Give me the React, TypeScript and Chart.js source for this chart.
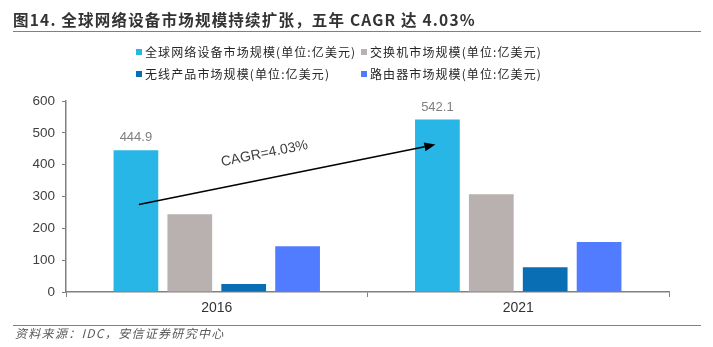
import React, { useEffect, useRef } from "react";
import { Chart, registerables } from "chart.js";

Chart.register(...registerables);

const categories = ["2016", "2021"];
const seriesNames = [
  "全球网络设备市场规模(单位:亿美元)",
  "交换机市场规模(单位:亿美元)",
  "无线产品市场规模(单位:亿美元)",
  "路由器市场规模(单位:亿美元)",
];
const globalMarket = [444.9, 542.1];
const switchMarket = [244, 307];
const wirelessMarket = [25, 78];
const routerMarket = [144, 157];
const seriesColors = ["#27B6E5", "#B9B1AF", "#0A6EB4", "#527CFF"];
const yTicks = [0, 100, 200, 300, 400, 500, 600];
const arrowStartValue = 275;
const arrowEndValue = 463;
const cagrLabel = "CAGR=4.03%";
const titleText = "图14. 全球网络设备市场规模持续扩张，五年 CAGR 达 4.03%";
const sourceText = "资料来源：IDC，安信证券研究中心";

const overlayPlugin = {
  id: "overlay",
  afterDatasetsDraw(chart: any) {
    const ctx = chart.ctx;
    const meta = chart.getDatasetMeta(0);
    const y = chart.scales.y;
    ctx.save();
    ctx.fillStyle = "#7F7F7F";
    ctx.font = "13px 'Liberation Sans', Arial, sans-serif";
    ctx.textAlign = "center";
    ctx.textBaseline = "bottom";
    meta.data.forEach((bar: any, i: number) => {
      ctx.fillText(globalMarket[i].toFixed(1), bar.x, bar.y - 6);
    });
    const x0 = meta.data[0].x + 3;
    const x1 = meta.data[1].x - 2;
    const y0 = y.getPixelForValue(arrowStartValue);
    const y1 = y.getPixelForValue(arrowEndValue);
    const ang = Math.atan2(y1 - y0, x1 - x0);
    const headLen = 11;
    const headW = 4.5;
    const bx = x1 - headLen * Math.cos(ang);
    const by = y1 - headLen * Math.sin(ang);
    ctx.strokeStyle = "#000";
    ctx.lineWidth = 1.6;
    ctx.beginPath();
    ctx.moveTo(x0, y0);
    ctx.lineTo(bx, by);
    ctx.stroke();
    ctx.fillStyle = "#000";
    ctx.beginPath();
    ctx.moveTo(x1, y1);
    ctx.lineTo(bx + headW * Math.sin(ang), by - headW * Math.cos(ang));
    ctx.lineTo(bx - headW * Math.sin(ang), by + headW * Math.cos(ang));
    ctx.closePath();
    ctx.fill();
    const tx = x0 + (x1 - x0) * 0.44;
    const ty = y0 + (y1 - y0) * 0.44;
    ctx.translate(tx + 25 * Math.sin(ang), ty - 25 * Math.cos(ang));
    ctx.rotate(ang);
    ctx.fillStyle = "#404040";
    ctx.font = "14px 'Liberation Sans', Arial, sans-serif";
    ctx.textAlign = "center";
    ctx.textBaseline = "middle";
    ctx.fillText(cagrLabel, 0, 0);
    ctx.restore();
  },
};

export default function App() {
  const ref = useRef<HTMLCanvasElement | null>(null);
  useEffect(() => {
    document.body.style.margin = "0";
    const chart = new Chart(ref.current as HTMLCanvasElement, {
      type: "bar",
      data: {
        labels: categories,
        datasets: [globalMarket, switchMarket, wirelessMarket, routerMarket].map((d, i) => ({
          label: seriesNames[i],
          data: d,
          backgroundColor: seriesColors[i],
          barPercentage: 0.83,
          categoryPercentage: 0.715,
        })),
      },
      options: {
        animation: false,
        responsive: false,
        layout: { padding: { top: 101, left: 0, right: 44, bottom: 27 } },
        plugins: { legend: { display: false }, tooltip: { enabled: false } },
        scales: {
          x: {
            afterFit: (s: any) => { s.height = 28; },
            grid: { display: true, drawOnChartArea: false, offset: true, color: "#808080", tickLength: 5 },
            border: { color: "#808080", width: 1.5 },
            ticks: { color: "#333", font: { family: "'Liberation Sans', Arial, sans-serif", size: 14 }, padding: 3 },
          },
          y: {
            min: 0,
            max: 600,
            afterFit: (s: any) => { s.width = 66; },
            afterBuildTicks: (s: any) => { s.ticks = yTicks.map((v) => ({ value: v })); },
            grid: { display: true, drawOnChartArea: false, color: "#808080", tickLength: 4 },
            border: { color: "#808080", width: 1.5 },
            ticks: { color: "#404040", font: { family: "'Liberation Sans', Arial, sans-serif", size: 13.5 }, padding: 7 },
          },
        },
      },
      plugins: [overlayPlugin],
    });
    return () => chart.destroy();
  }, []);

  const legendItem = (i: number, left: number, top: number) => (
    <div
      key={i}
      style={{
        position: "absolute",
        left,
        top,
        display: "flex",
        alignItems: "center",
        fontFamily: "'Noto Sans CJK SC', sans-serif",
        fontSize: 12,
        letterSpacing: 1.1,
        color: "#262626",
        whiteSpace: "nowrap",
        lineHeight: "16px",
      }}
    >
      <span style={{ display: "inline-block", width: 6, height: 6, background: seriesColors[i], marginRight: 3 }} />
      {seriesNames[i]}
    </div>
  );

  return (
    <div style={{ position: "fixed", left: 0, top: 0, width: 713, height: 347, background: "#fff", overflow: "hidden" }}>
      <canvas ref={ref} width={713} height={347} style={{ position: "absolute", left: 0, top: 0 }} />
      <div
        style={{
          position: "absolute",
          left: 13,
          top: 9,
          fontFamily: "'Noto Sans CJK SC', sans-serif",
          fontWeight: 700,
          fontSize: 15.5,
          letterSpacing: 1.2,
          color: "#333",
          whiteSpace: "nowrap",
          lineHeight: "20px",
        }}
      >
        {titleText}
      </div>
      <div style={{ position: "absolute", left: 13, top: 31, width: 688, height: 1, background: "#808080" }} />
      {legendItem(0, 136, 44)}
      {legendItem(1, 361, 44)}
      {legendItem(2, 136, 66)}
      {legendItem(3, 361, 66)}
      <div style={{ position: "absolute", left: 13, top: 325, width: 688, height: 1, background: "#808080" }} />
      <div
        style={{
          position: "absolute",
          left: 15,
          top: 325,
          fontFamily: "'Noto Sans CJK SC', sans-serif",
          fontStyle: "italic",
          fontSize: 12,
          letterSpacing: 1.3,
          color: "#595959",
          whiteSpace: "nowrap",
          lineHeight: "16px",
        }}
      >
        {sourceText}
      </div>
    </div>
  );
}
